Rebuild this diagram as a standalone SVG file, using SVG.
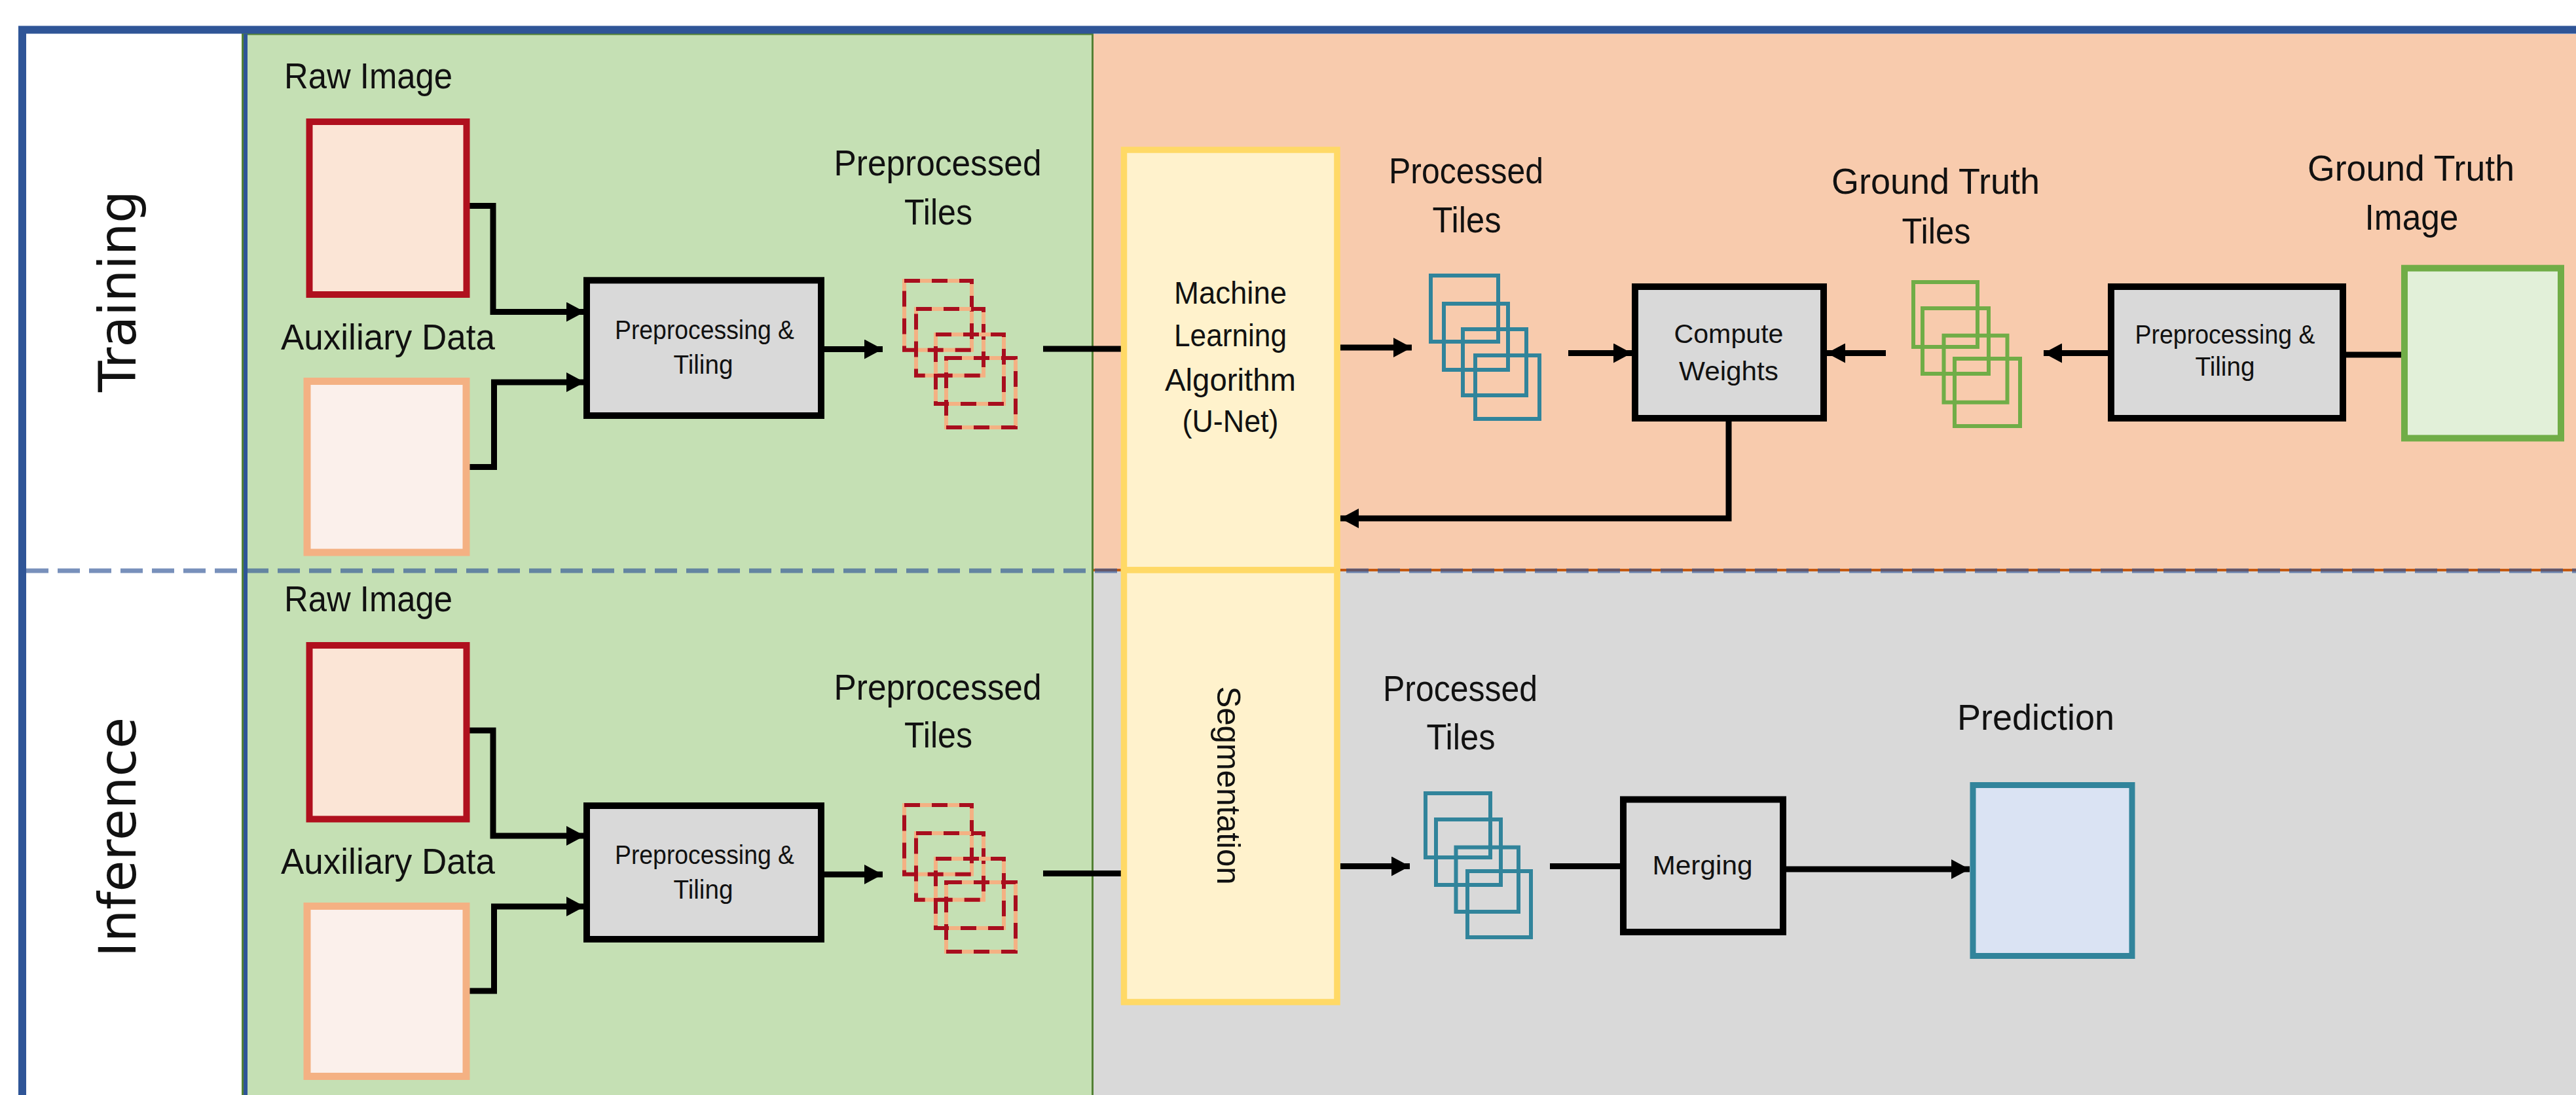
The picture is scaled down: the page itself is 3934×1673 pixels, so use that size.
<svg xmlns="http://www.w3.org/2000/svg" width="3934" height="1673" viewBox="0 0 3934 1673">
  <style>
    .lbl { font-family: "Liberation Sans", Arial, sans-serif; font-size: 55px; fill: #111; }
    .box-txt { font-family: "Liberation Sans", Arial, sans-serif; font-size: 41px; fill: #111; text-anchor: middle; }
    .ml-txt { font-family: "Liberation Sans", Arial, sans-serif; font-size: 48px; fill: #111; text-anchor: middle; }
    .lane { font-family: "DejaVu Sans", sans-serif; font-size: 78px; fill: #111; text-anchor: middle; }
    .mid { text-anchor: middle; }
    .proc { fill: #D9D9D9; stroke: #000; stroke-width: 10; }
    .raw { fill: #FBE5D6; stroke: #B0101E; stroke-width: 10; }
    .aux { fill: #FBF0EB; stroke: #F4B183; stroke-width: 11; }
    .algo { fill: #FFF2CC; stroke: #FFD966; stroke-width: 9.5; }
    .tile-base { fill: none; stroke: #F4B183; stroke-width: 6; }
    .tile-dash { fill: none; stroke: #A80E1E; stroke-width: 6; stroke-dasharray: 24 18; }
    .tile-blue { fill: none; stroke: #31849B; stroke-width: 6; }
    .tile-green { fill: none; stroke: #70AD47; stroke-width: 6; }
    .wire { fill: none; stroke: #000; stroke-width: 9; }
    .wire-a { fill: none; stroke: #000; stroke-width: 9; marker-end: url(#head); }
  </style>
  <defs>
    <marker id="head" markerUnits="userSpaceOnUse" markerWidth="28" markerHeight="30" refX="28" refY="15" orient="auto">
      <path d="M0,0 L28,15 L0,30 Z" fill="#000"/>
    </marker>
  </defs>

  <!-- swimlane backgrounds -->
  <g id="lanes">
    <rect x="0" y="0" width="3934" height="1673" fill="#FFFFFF"/>
    <rect x="370.5" y="52" width="1298" height="1640" fill="#C5E0B4" stroke="#538135" stroke-width="3"/>
    <rect x="1670" y="52" width="2270" height="819" fill="#F8CBAD"/>
    <rect x="1670" y="871" width="2270" height="810" fill="#D9D9D9"/>
    <line x1="1670" y1="871" x2="3934" y2="871" stroke="#C55A11" stroke-width="4"/>
    <line x1="40" y1="872" x2="3934" y2="872" stroke="#2F5597" stroke-opacity="0.65" stroke-width="7" stroke-dasharray="34 14"/>
    <line x1="375" y1="52" x2="375" y2="1673" stroke="#2F5597" stroke-width="6"/>
    <path d="M34,1700 V45.5 H3960" fill="none" stroke="#2F5597" stroke-width="12"/>
    <text class="lane" x="207" y="445" transform="rotate(-90 207 445)">Training</text>
    <text class="lane" x="207" y="1279" transform="rotate(-90 207 1279)">Inference</text>
  </g>

  <!-- connectors -->
  <g id="connectors">
    <path class="wire-a" d="M717,314.5 H753 V476.5 H893"/>
    <path class="wire-a" d="M717,713.5 H754.5 V584 H893"/>
    <path class="wire-a" d="M1259,533.5 H1348"/>
    <path class="wire" d="M1593,533 H1712"/>
    <path class="wire-a" d="M2047,531 H2156"/>
    <path class="wire-a" d="M2395,539.5 H2492"/>
    <path class="wire-a" d="M2880,539.5 H2790"/>
    <path class="wire-a" d="M3219,539.5 H3121"/>
    <path class="wire" d="M3667,542 H3583"/>
    <path class="wire-a" d="M2640,644 V792 H2047"/>

    <path class="wire-a" d="M717,1116 H753 V1277 H893"/>
    <path class="wire-a" d="M717,1514 H754.5 V1385 H893"/>
    <path class="wire-a" d="M1259,1336 H1348"/>
    <path class="wire" d="M1593,1334.5 H1712"/>
    <path class="wire-a" d="M2047,1323.5 H2153"/>
    <path class="wire" d="M2367,1323.5 H2474"/>
    <path class="wire-a" d="M2728,1328 H3008"/>
  </g>

  <!-- training lane -->
  <g id="raw-image-train">
    <text class="lbl" x="434" y="135" textLength="257" lengthAdjust="spacingAndGlyphs">Raw Image</text>
    <rect class="raw" x="472.5" y="186" width="240" height="264"/>
  </g>
  <g id="aux-data-train">
    <text class="lbl" x="429" y="534" textLength="327" lengthAdjust="spacingAndGlyphs">Auxiliary Data</text>
    <rect class="aux" x="469" y="582.5" width="243" height="261.5"/>
  </g>
  <g id="preprocess-train">
    <rect class="proc" x="896" y="428.3" width="358" height="206.7"/>
    <text class="box-txt" x="1076" y="518.3" textLength="274" lengthAdjust="spacingAndGlyphs">Preprocessing &amp;</text>
    <text class="box-txt" x="1074" y="570.7" textLength="91" lengthAdjust="spacingAndGlyphs">Tiling</text>
  </g>
  <g id="preprocessed-tiles-train">
    <text class="lbl mid" x="1432" y="268" textLength="317" lengthAdjust="spacingAndGlyphs">Preprocessed</text>
    <text class="lbl mid" x="1433" y="342.7" textLength="104" lengthAdjust="spacingAndGlyphs">Tiles</text>
    <rect class="tile-base" x="1381" y="429" width="103" height="105.7"/>
    <rect class="tile-dash" x="1381" y="429" width="103" height="105.7"/>
    <rect class="tile-base" x="1399" y="472" width="103" height="101.7"/>
    <rect class="tile-dash" x="1399" y="472" width="103" height="101.7"/>
    <rect class="tile-base" x="1429" y="511" width="104" height="106"/>
    <rect class="tile-dash" x="1429" y="511" width="104" height="106"/>
    <rect class="tile-base" x="1445" y="547" width="106" height="106"/>
    <rect class="tile-dash" x="1445" y="547" width="106" height="106"/>
  </g>
  <g id="ml-algorithm">
    <rect class="algo" x="1716.5" y="229" width="325.5" height="642"/>
    <text class="ml-txt" x="1879" y="463.8" textLength="172" lengthAdjust="spacingAndGlyphs">Machine</text>
    <text class="ml-txt" x="1879" y="529" textLength="172" lengthAdjust="spacingAndGlyphs">Learning</text>
    <text class="ml-txt" x="1879" y="597" textLength="200" lengthAdjust="spacingAndGlyphs">Algorithm</text>
    <text class="ml-txt" x="1879" y="660" textLength="147" lengthAdjust="spacingAndGlyphs">(U-Net)</text>
  </g>
  <g id="processed-tiles-train">
    <text class="lbl mid" x="2239" y="279.5" textLength="236" lengthAdjust="spacingAndGlyphs">Processed</text>
    <text class="lbl mid" x="2240" y="354.7" textLength="105" lengthAdjust="spacingAndGlyphs">Tiles</text>
    <rect class="tile-blue" x="2185" y="421" width="103" height="101"/>
    <rect class="tile-blue" x="2205" y="464" width="98" height="101"/>
    <rect class="tile-blue" x="2234" y="503" width="97" height="101"/>
    <rect class="tile-blue" x="2253" y="543" width="98" height="97"/>
  </g>
  <g id="compute-weights">
    <rect class="proc" x="2497" y="438" width="288" height="201"/>
    <text class="box-txt" x="2640" y="523.5" textLength="167" lengthAdjust="spacingAndGlyphs">Compute</text>
    <text class="box-txt" x="2640" y="581" textLength="152" lengthAdjust="spacingAndGlyphs">Weights</text>
  </g>
  <g id="ground-truth-tiles">
    <text class="lbl mid" x="2956" y="295.6" textLength="318" lengthAdjust="spacingAndGlyphs">Ground Truth</text>
    <text class="lbl mid" x="2957" y="372" textLength="105" lengthAdjust="spacingAndGlyphs">Tiles</text>
    <rect class="tile-green" x="2922" y="431" width="98" height="99"/>
    <rect class="tile-green" x="2936" y="471" width="101" height="100"/>
    <rect class="tile-green" x="2968.5" y="512.7" width="97" height="102"/>
    <rect class="tile-green" x="2985" y="548" width="100" height="103"/>
  </g>
  <g id="preprocess-gt">
    <rect class="proc" x="3224" y="438" width="354" height="201"/>
    <text class="box-txt" x="3398" y="525" textLength="275" lengthAdjust="spacingAndGlyphs">Preprocessing &amp;</text>
    <text class="box-txt" x="3398" y="574" textLength="91" lengthAdjust="spacingAndGlyphs">Tiling</text>
  </g>
  <g id="ground-truth-image">
    <text class="lbl mid" x="3682" y="275.5" textLength="316" lengthAdjust="spacingAndGlyphs">Ground Truth</text>
    <text class="lbl mid" x="3683" y="351.3" textLength="143" lengthAdjust="spacingAndGlyphs">Image</text>
    <rect x="3672" y="409.7" width="239" height="259.8" fill="#E2F0D9" stroke="#70AD47" stroke-width="10"/>
  </g>

  <!-- inference lane -->
  <g id="raw-image-infer">
    <text class="lbl" x="434" y="933.6" textLength="257" lengthAdjust="spacingAndGlyphs">Raw Image</text>
    <rect class="raw" x="472.5" y="986" width="240" height="265.5"/>
  </g>
  <g id="aux-data-infer">
    <text class="lbl" x="429" y="1334.5" textLength="327" lengthAdjust="spacingAndGlyphs">Auxiliary Data</text>
    <rect class="aux" x="469" y="1384.5" width="243" height="260"/>
  </g>
  <g id="preprocess-infer">
    <rect class="proc" x="896" y="1231" width="358" height="204"/>
    <text class="box-txt" x="1076" y="1320" textLength="274" lengthAdjust="spacingAndGlyphs">Preprocessing &amp;</text>
    <text class="box-txt" x="1074" y="1373" textLength="91" lengthAdjust="spacingAndGlyphs">Tiling</text>
  </g>
  <g id="preprocessed-tiles-infer">
    <text class="lbl mid" x="1432" y="1069" textLength="317" lengthAdjust="spacingAndGlyphs">Preprocessed</text>
    <text class="lbl mid" x="1433" y="1142" textLength="104" lengthAdjust="spacingAndGlyphs">Tiles</text>
    <rect class="tile-base" x="1381" y="1230" width="103" height="105.7"/>
    <rect class="tile-dash" x="1381" y="1230" width="103" height="105.7"/>
    <rect class="tile-base" x="1399" y="1273" width="103" height="101.7"/>
    <rect class="tile-dash" x="1399" y="1273" width="103" height="101.7"/>
    <rect class="tile-base" x="1429" y="1312" width="104" height="106"/>
    <rect class="tile-dash" x="1429" y="1312" width="104" height="106"/>
    <rect class="tile-base" x="1445" y="1348" width="106" height="106"/>
    <rect class="tile-dash" x="1445" y="1348" width="106" height="106"/>
  </g>
  <g id="segmentation">
    <rect class="algo" x="1716.5" y="871" width="325.5" height="660"/>
    <text x="1859" y="1200" transform="rotate(90 1859 1200)" font-family="Liberation Sans, Arial, sans-serif" font-size="50" fill="#111" text-anchor="middle" textLength="303" lengthAdjust="spacingAndGlyphs">Segmentation</text>
  </g>
  <g id="processed-tiles-infer">
    <text class="lbl mid" x="2230" y="1071" textLength="236" lengthAdjust="spacingAndGlyphs">Processed</text>
    <text class="lbl mid" x="2231" y="1145" textLength="105" lengthAdjust="spacingAndGlyphs">Tiles</text>
    <rect class="tile-blue" x="2177" y="1212" width="99" height="98"/>
    <rect class="tile-blue" x="2193" y="1252" width="99" height="100"/>
    <rect class="tile-blue" x="2223.5" y="1294.6" width="95.5" height="98.4"/>
    <rect class="tile-blue" x="2241" y="1331" width="97" height="101"/>
  </g>
  <g id="merging">
    <rect class="proc" x="2479" y="1221.5" width="244" height="202.5"/>
    <text class="box-txt" x="2600" y="1335.6" textLength="153" lengthAdjust="spacingAndGlyphs">Merging</text>
  </g>
  <g id="prediction">
    <text class="lbl mid" x="3109" y="1114.6" textLength="240" lengthAdjust="spacingAndGlyphs">Prediction</text>
    <rect x="3013" y="1199.5" width="243" height="261" fill="#DAE3F3" stroke="#31849B" stroke-width="9"/>
  </g>
</svg>
